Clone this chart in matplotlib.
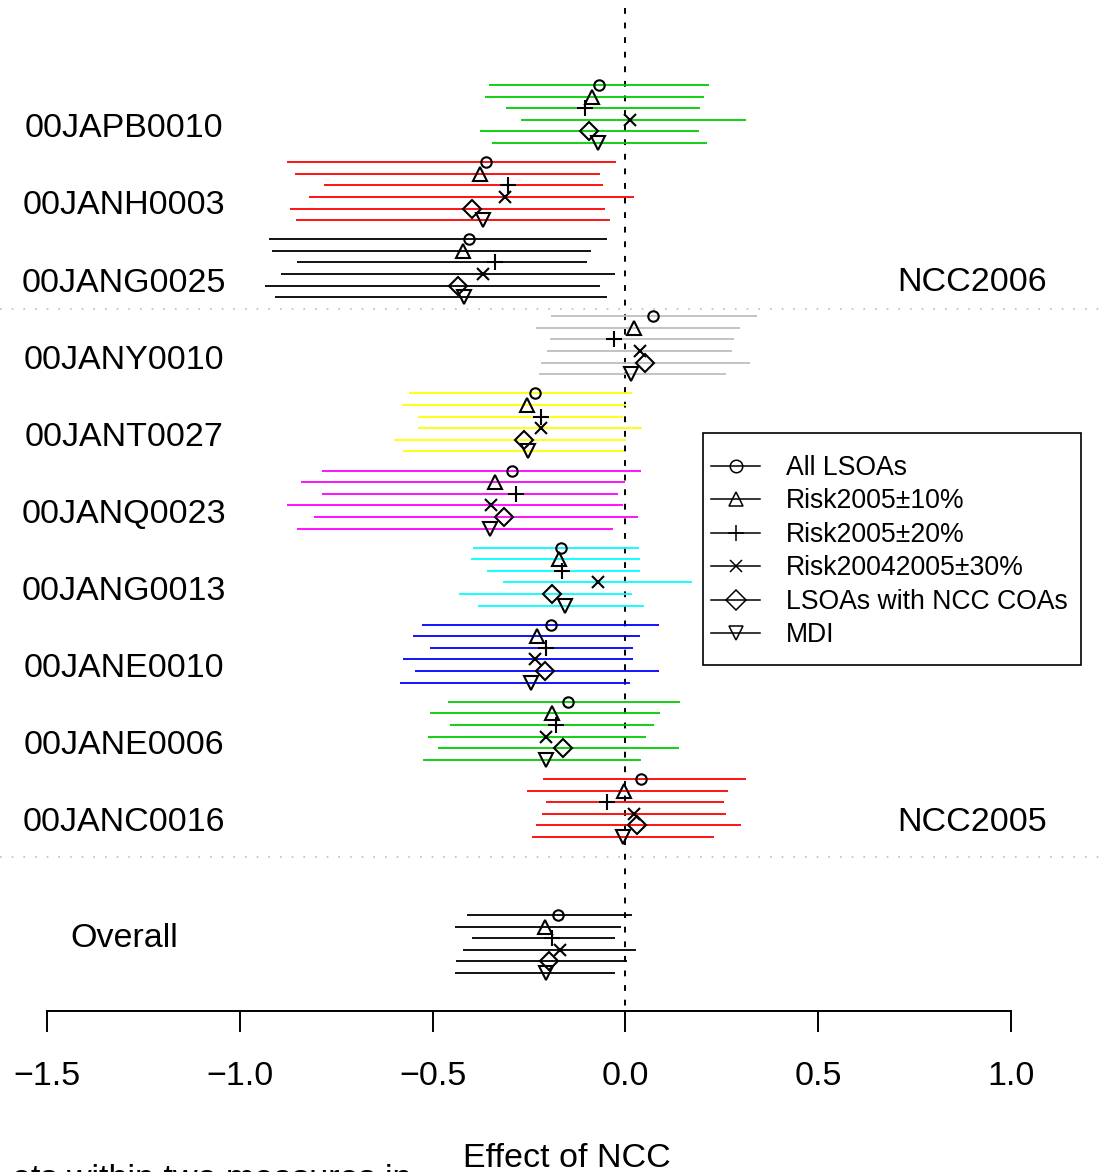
import matplotlib
matplotlib.use("Agg")
import matplotlib.pyplot as plt
from matplotlib.lines import Line2D
from matplotlib.patches import Rectangle

plt.rcParams['font.family'] = ['Liberation Sans', 'DejaVu Sans']

# ---------------- data (top to bottom) ----------------
groups = ["00JAPB0010", "00JANH0003", "00JANG0025", "00JANY0010", "00JANT0027",
          "00JANQ0023", "00JANG0013", "00JANE0010", "00JANE0006", "00JANC0016", "Overall"]
group_colors = ["#00CD00", "#FF0000", "#000000", "#BEBEBE", "#FFFF00",
                "#FF00FF", "#00FFFF", "#0000FF", "#00CD00", "#FF0000", "#000000"]

methods = ["All LSOAs", "Risk2005\u00b110%", "Risk2005\u00b120%",
           "Risk20042005\u00b130%", "LSOAs with NCC COAs", "MDI"]

est_all = [-0.068, -0.362, -0.405, 0.071, -0.235, -0.294, -0.167, -0.192, -0.148, 0.041, -0.176]
lo_all = [-0.355, -0.877, -0.925, -0.192, -0.562, -0.787, -0.395, -0.527, -0.461, -0.214, -0.412]
hi_all = [0.218, -0.025, -0.049, 0.342, 0.017, 0.041, 0.035, 0.087, 0.142, 0.313, 0.018]

est_r10 = [-0.087, -0.376, -0.422, 0.022, -0.256, -0.337, -0.173, -0.229, -0.190, -0.004, -0.208]
lo_r10 = [-0.363, -0.858, -0.917, -0.231, -0.580, -0.840, -0.401, -0.550, -0.506, -0.254, -0.443]
hi_r10 = [0.204, -0.067, -0.090, 0.297, 0.002, 0.000, 0.037, 0.037, 0.090, 0.266, -0.011]

est_r20 = [-0.104, -0.305, -0.337, -0.030, -0.220, -0.283, -0.165, -0.206, -0.179, -0.048, -0.190]
lo_r20 = [-0.310, -0.781, -0.852, -0.195, -0.538, -0.788, -0.360, -0.508, -0.454, -0.207, -0.399]
hi_r20 = [0.193, -0.058, -0.099, 0.281, -0.006, -0.020, 0.037, 0.019, 0.073, 0.256, -0.028]

est_r30 = [0.013, -0.311, -0.368, 0.039, -0.218, -0.348, -0.071, -0.235, -0.206, 0.022, -0.170]
lo_r30 = [-0.271, -0.820, -0.892, -0.204, -0.538, -0.877, -0.317, -0.576, -0.513, -0.215, -0.420]
hi_r30 = [0.313, 0.022, -0.028, 0.277, 0.042, -0.006, 0.174, 0.019, 0.054, 0.260, 0.027]

est_coa = [-0.094, -0.397, -0.433, 0.050, -0.264, -0.316, -0.191, -0.209, -0.162, 0.030, -0.198]
lo_coa = [-0.376, -0.871, -0.935, -0.220, -0.601, -0.808, -0.431, -0.546, -0.487, -0.233, -0.440]
hi_coa = [0.191, -0.053, -0.067, 0.324, 0.002, 0.032, 0.018, 0.086, 0.139, 0.301, 0.003]

est_mdi = [-0.072, -0.369, -0.419, 0.014, -0.253, -0.352, -0.156, -0.244, -0.207, -0.006, -0.207]
lo_mdi = [-0.345, -0.855, -0.908, -0.225, -0.578, -0.852, -0.383, -0.584, -0.525, -0.242, -0.443]
hi_mdi = [0.212, -0.040, -0.049, 0.262, -0.003, -0.032, 0.048, 0.013, 0.041, 0.231, -0.027]

xticks = [-1.5, -1.0, -0.5, 0.0, 0.5, 1.0]
xtick_labels = ["\u22121.5", "\u22121.0", "\u22120.5", "0.0", "0.5", "1.0"]

# ---------------- styles / layout ----------------
ests = [est_all, est_r10, est_r20, est_r30, est_coa, est_mdi]
los = [lo_all, lo_r10, lo_r20, lo_r30, lo_coa, lo_mdi]
his = [hi_all, hi_r10, hi_r20, hi_r30, hi_coa, hi_mdi]
markers = ["o", "^", "+", "x", "D", "v"]
msizes = [7.5, 9.5, 11, 8, 9.5, 9.5]

W, H = 1108, 1172
fig = plt.figure(figsize=(W / 100, H / 100), dpi=100)
ax = fig.add_axes([0, 0, 1, 1])
px_per_unit = (1011 - 47) / 2.5
x_left = -1.5 - 47 / px_per_unit
x_right = 1.0 + (W - 1011) / px_per_unit
ax.set_xlim(x_left, x_right)
ax.set_ylim(H, 0)  # y measured in pixels from the top

row_step = 11.6
group_label_y = [125 + 77.1 * i for i in range(10)] + [935]
row_start = [y - 40 for y in group_label_y[:10]] + [935 - 20]

lw = 1.3
for g in range(len(groups)):
    for m in range(6):
        y = row_start[g] + row_step * m
        ax.plot([los[m][g], his[m][g]], [y, y], color=group_colors[g], lw=lw,
                solid_capstyle="butt", zorder=2)
        ax.plot([ests[m][g]], [y], linestyle="none", marker=markers[m],
                ms=msizes[m], mfc="none", mec="black", mew=1.5, zorder=3)

# reference line at zero
ax.plot([0, 0], [8, 1011], color="black", lw=1.4, dashes=(3, 4.5), zorder=1)

# group separators
for ysep in [309, 857]:
    ax.plot([x_left, x_right], [ysep, ysep], color="#BEBEBE", lw=1.2,
            dashes=(1, 6), zorder=0)

# group labels
fs = 24.5
for g, name in enumerate(groups):
    ax.text(124 / W, 1 - (group_label_y[g] + 12.3) / H, name, transform=ax.transAxes,
            ha="center", va="baseline", fontsize=fs)

ax.text(1047 / W, 1 - (279 + 12.3) / H, "NCC2006", transform=ax.transAxes,
        ha="right", va="baseline", fontsize=fs)
ax.text(1047 / W, 1 - (819 + 12.3) / H, "NCC2005", transform=ax.transAxes,
        ha="right", va="baseline", fontsize=fs)

# x axis
for s in ["top", "left", "right"]:
    ax.spines[s].set_visible(False)
ax.spines["bottom"].set_position(("data", 1011))
ax.spines["bottom"].set_bounds(-1.5, 1.0)
ax.spines["bottom"].set_linewidth(1.4)
ax.set_xticks(xticks)
ax.set_xticklabels(xtick_labels, fontsize=fs)
ax.tick_params(axis="x", direction="out", length=15, width=1.4, pad=21)
ax.set_yticks([])

ax.text(567 / W, 1 - 1167 / H, "Effect of NCC", transform=ax.transAxes,
        ha="center", va="baseline", fontsize=fs)
ax.text(12 / W, 1 - 1188 / H, "ets within two measures in", transform=ax.transAxes,
        ha="left", va="baseline", fontsize=fs, clip_on=False)

# legend
leg_ms = [9, 10.5, 12, 9, 10.5, 10.5]
handles = [Line2D([0], [0], color="black", lw=1.1, marker=markers[m],
                  ms=leg_ms[m], mfc="none", mec="black", mew=1.1)
           for m in range(6)]
leg = ax.legend(handles, methods, loc="upper left", frameon=False,
                bbox_to_anchor=(703 / W, 1 - 447 / H), bbox_transform=ax.transAxes,
                fontsize=19.2, handlelength=1.85, handletextpad=0.95,
                labelspacing=0.28, borderpad=0.3, borderaxespad=0)
frame = Rectangle((703 / W, 1 - 665 / H), (1081 - 703) / W, (665 - 433) / H,
                  transform=ax.transAxes, fill=False, edgecolor="black", lw=1.2)
ax.add_patch(frame)

fig.savefig("out.png", dpi=100)
